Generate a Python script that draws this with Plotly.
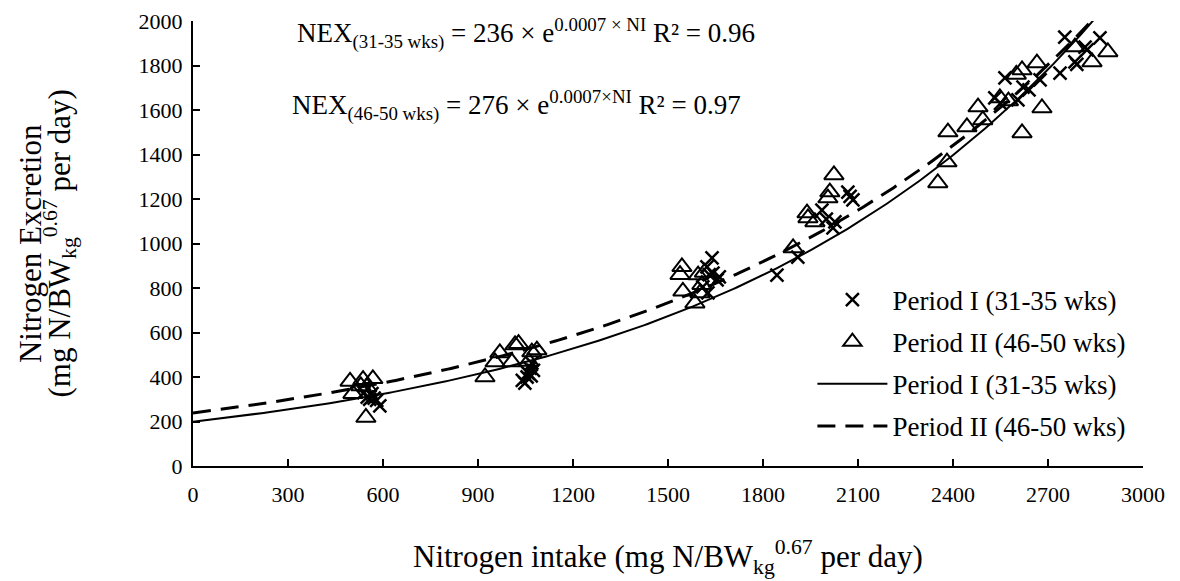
import numpy as np
import plotly.graph_objects as go

# ---- data ----
p1_ni = [540, 550, 558, 565, 572, 580, 590,
         1040, 1048, 1055, 1058, 1064, 1070, 1075, 1068,
         1610, 1623, 1626, 1639, 1642, 1655, 1662, 1630,
         1844, 1910, 1986, 2000, 2021, 2027, 2068, 2075, 2084,
         2532, 2550, 2564, 2605, 2621, 2640, 2675, 2738, 2753, 2785, 2791, 2817, 2823, 2864]
p1_nex = [330, 310, 300, 325, 305, 295, 270,
          385, 372, 400, 418, 440, 462, 430, 405,
          805, 895, 778, 935, 867, 836, 850, 860,
          858, 939, 1150, 1110, 1070, 1097, 1231, 1212, 1196,
          1654, 1630, 1744, 1645, 1703, 1690, 1735, 1766, 1928, 1816, 1805, 1883, 1870, 1924]

p2_ni = [496, 505, 530, 537, 546, 549, 568,
         922, 954, 969, 1007, 1017, 1028, 1060, 1070, 1086,
         1538, 1544, 1547, 1585, 1595, 1601, 1607, 1615,
         1895, 1939, 1942, 1964, 2005, 2011, 2024,
         2352, 2381, 2384, 2444, 2479, 2494, 2548, 2575, 2600, 2618, 2618, 2665, 2681, 2785, 2839, 2889]
p2_nex = [380, 325, 360, 388, 218, 355, 392,
          400, 467, 508, 467, 544, 550, 470, 512, 521,
          860, 895, 785, 732, 858, 777, 815, 870,
          980, 1137, 1115, 1097, 1204, 1231, 1308,
          1272, 1366, 1501, 1524, 1613, 1555, 1654, 1640, 1760, 1497, 1780, 1811, 1609, 1883, 1816, 1861]

# fitted exponential trendlines as drawn: NEX = a * exp(b * NI)
trend_names = ["Period I (31-35 wks)", "Period II (46-50 wks)"]
trend_a = [199, 238]
trend_b = [0.000812, 0.00075]
trend_dash = ["solid", "18px,10px"]
trend_width = [2, 3]
trend_x_end = 2900

x_ticks = [0, 300, 600, 900, 1200, 1500, 1800, 2100, 2400, 2700, 3000]
y_ticks = [0, 200, 400, 600, 800, 1000, 1200, 1400, 1600, 1800, 2000]

FONT = "Liberation Serif"
TITLE_SIZE = 31
PAGE_OFFSET = 8  # default body margin of the html page

fig = go.Figure()
fig.add_trace(go.Scatter(
    x=p1_ni, y=p1_nex, mode="markers", name="Period I (31-35 wks)", legendgroup="g1",
    marker=dict(symbol="x-thin", size=13, color="black", line=dict(color="black", width=2.5))))
fig.add_trace(go.Scatter(
    x=p2_ni, y=p2_nex, mode="markers", name="Period II (46-50 wks)", legendgroup="g2",
    marker=dict(symbol="triangle-up-open", size=17, color="black", line=dict(color="black", width=2))))

xs = np.linspace(0, trend_x_end, 300)
for i, (name, a, b, dash, w) in enumerate(zip(trend_names, trend_a, trend_b, trend_dash, trend_width)):
    fig.add_trace(go.Scatter(
        x=xs, y=a * np.exp(b * xs), mode="lines", name=name, legendgroup=f"g{3 + i}",
        line=dict(color="black", width=w, dash=dash)))

fig.update_layout(
    width=1180, height=581,
    margin=dict(l=193 - PAGE_OFFSET, r=37 + PAGE_OFFSET, t=21 - PAGE_OFFSET,
                b=115 + PAGE_OFFSET, autoexpand=False),
    paper_bgcolor="white", plot_bgcolor="white",
    font=dict(family=FONT, size=22, color="black"),
    showlegend=True,
    legend=dict(x=0.652, y=0.428, xanchor="left", yanchor="top",
                itemwidth=70, tracegroupgap=4,
                font=dict(family=FONT, size=27, color="black"),
                bgcolor="rgba(0,0,0,0)"),
    annotations=[
        dict(text="NEX<sub>(31-35 wks)</sub> = 236 × e<sup>0.0007 × NI</sup> R² = 0.96",
             xref="paper", yref="paper", x=0.107, y=0.973, xanchor="left", yanchor="middle",
             showarrow=False, font=dict(family=FONT, size=27, color="black")),
        dict(text="NEX<sub>(46-50 wks)</sub> = 276 × e<sup>0.0007×NI</sup> R² = 0.97",
             xref="paper", yref="paper", x=0.102, y=0.81, xanchor="left", yanchor="middle",
             showarrow=False, font=dict(family=FONT, size=27, color="black")),
        dict(text="Nitrogen intake (mg N/BW<sub>kg</sub><sup>0.67</sup> per day)",
             xref="paper", yref="paper", x=0.5, y=-0.205, xanchor="center", yanchor="middle",
             showarrow=False, font=dict(family=FONT, size=TITLE_SIZE, color="black")),
        dict(text="Nitrogen Excretion",
             xref="paper", yref="paper", x=-0.171, y=0.5, xanchor="center", yanchor="middle",
             textangle=-90, showarrow=False,
             font=dict(family=FONT, size=TITLE_SIZE, color="black")),
        dict(text="(mg N/BW<sub>kg</sub><sup>0.67</sup> per day)",
             xref="paper", yref="paper", x=-0.141, y=0.5, xanchor="center", yanchor="middle",
             textangle=-90, showarrow=False,
             font=dict(family=FONT, size=TITLE_SIZE, color="black")),
    ],
)
fig.update_xaxes(
    range=[0, 3000], tickvals=x_ticks, ticktext=[str(v) for v in x_ticks],
    showgrid=False, zeroline=False, showline=True, linecolor="black", linewidth=2,
    ticks="inside", ticklen=7, tickwidth=2, tickcolor="black", automargin=False,
    tickfont=dict(family=FONT, size=22), ticklabelstandoff=8)
fig.update_yaxes(
    range=[0, 2000], tickvals=y_ticks, ticktext=[str(v) for v in y_ticks],
    showgrid=False, zeroline=False, showline=True, linecolor="black", linewidth=2,
    ticks="inside", ticklen=7, tickwidth=2, tickcolor="black", automargin=False,
    tickfont=dict(family=FONT, size=22), ticklabelstandoff=4)

fig.write_html("out.html")
